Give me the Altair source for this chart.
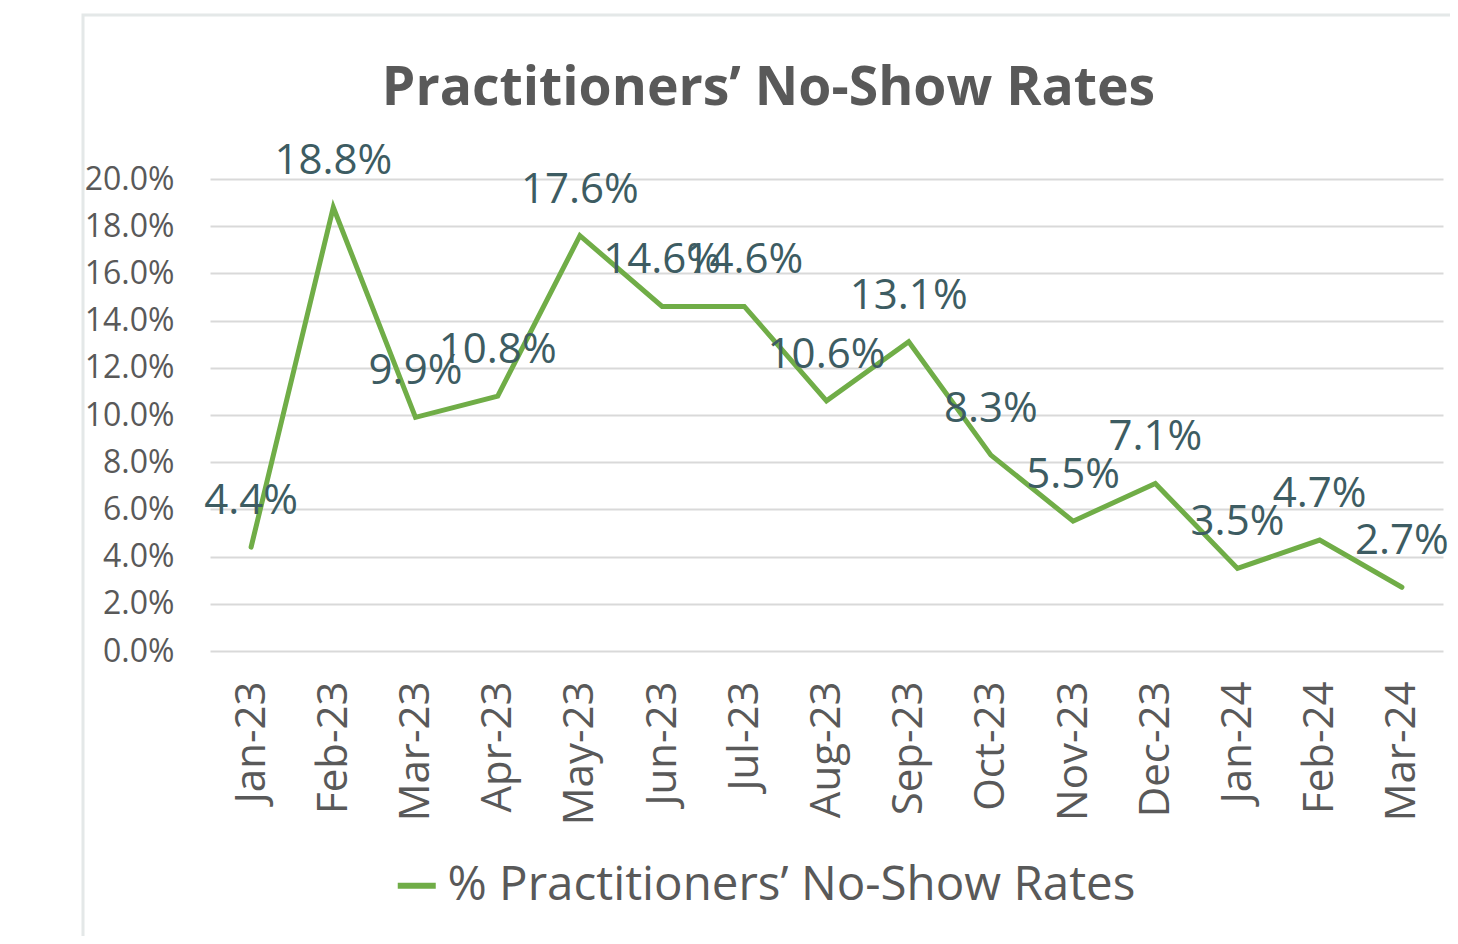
import altair as alt
import pandas as pd

months = ["Jan-23", "Feb-23", "Mar-23", "Apr-23", "May-23", "Jun-23", "Jul-23",
          "Aug-23", "Sep-23", "Oct-23", "Nov-23", "Dec-23", "Jan-24", "Feb-24", "Mar-24"]
rates = [4.4, 18.8, 9.9, 10.8, 17.6, 14.6, 14.6, 10.6, 13.1, 8.3, 5.5, 7.1, 3.5, 4.7, 2.7]
series_name = "% Practitioners\u2019 No-Show Rates"
title_text = "Practitioners\u2019 No-Show Rates"

df = pd.DataFrame({
    "month": months,
    "rate": [r / 100 for r in rates],
    "label": [f"{r:.1f}%" for r in rates],
    "series": series_name,
})

FONT = "Open Sans"
GREEN = "#70AD47"

x_enc = alt.X("month:N", sort=months, title=None,
              scale=alt.Scale(type="point", padding=0.5),
              axis=alt.Axis(labelAngle=270, labelAlign="right", labelBaseline="middle",
                            labelPadding=30, ticks=False, domain=False, grid=False,
                            labelFontSize=42, labelColor="#595959", labelFont=FONT))
y_enc = alt.Y("rate:Q", title=None,
              scale=alt.Scale(domain=[0, 0.2], nice=False),
              axis=alt.Axis(format=".1%", values=[i / 100 for i in range(0, 21, 2)],
                            labelPadding=36, ticks=False, domain=False,
                            gridColor="#D9D9D9", gridWidth=2,
                            labelFontSize=32, labelColor="#595959", labelFont=FONT))

border = alt.Chart(alt.Data(values=[{"a": 1}])).mark_rect(
    fill=None, stroke="#E4E8E8", strokeWidth=3, clip=False
).encode(x=alt.value(-127), x2=alt.value(1244), y=alt.value(-164), y2=alt.value(800))

line = alt.Chart(df).mark_line(strokeWidth=5, strokeCap="round", strokeJoin="miter").encode(
    x=x_enc, y=y_enc,
    color=alt.Color("series:N", scale=alt.Scale(range=[GREEN]),
                    legend=alt.Legend(title=None, orient="none", legendX=183, legendY=683,
                                      symbolType="stroke", symbolSize=1444,
                                      symbolStrokeWidth=6, labelFontSize=47.5,
                                      labelFont=FONT, labelColor="#595959",
                                      labelOffset=7, labelLimit=1000))
)

labels = alt.Chart(df).mark_text(dy=-46, fontSize=42, font=FONT, color="#3D5C62").encode(
    x=alt.X("month:N", sort=months), y="rate:Q", text="label:N"
)

chart = alt.layer(border, line, labels).properties(
    width=1233, height=472,
    autosize=alt.AutoSizeParams(type="none"),
    padding={"left": 202, "top": 171, "right": 7, "bottom": 285},
    title=alt.Title(title_text, font=FONT, fontSize=53.5, fontWeight="bold", color="#595959",
                    anchor="middle", dx=-58, offset=-156, baseline="bottom"),
).configure_view(stroke=None)

chart.save("out.html", embed_options={"renderer": "svg", "actions": False})
